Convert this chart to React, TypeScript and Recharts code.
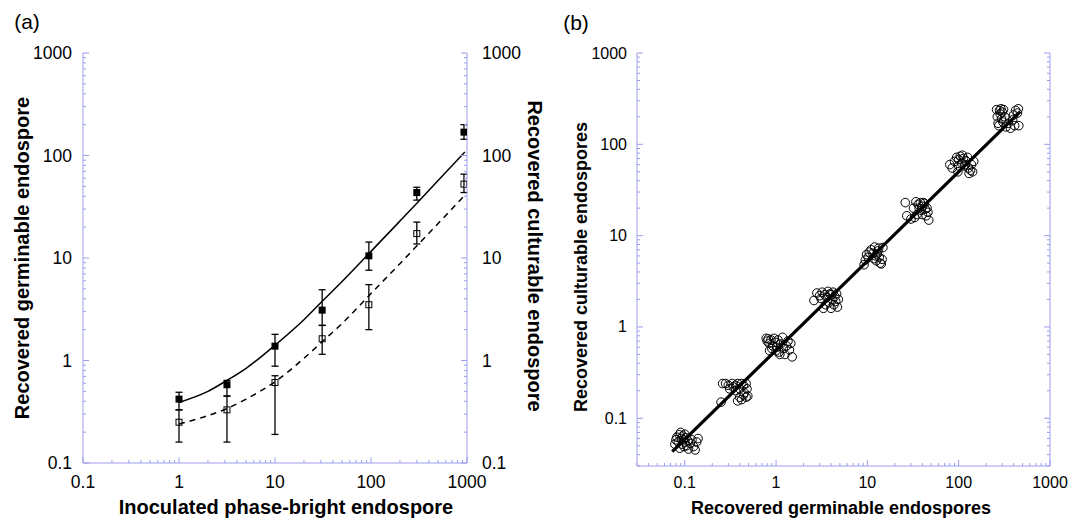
import React from 'react';
import { ComposedChart, Scatter, Line, XAxis, YAxis, ErrorBar } from 'recharts';

const FONT = '"Liberation Sans", Arial, Helvetica, sans-serif';
const AXIS_COLOR = '#9c9cf0';

// ---- tick values ----
const majorTicks = [0.1, 1, 10, 100, 1000];
const minorTicksA = [
  0.2, 0.3, 0.4, 0.5, 0.6, 0.7, 0.8, 0.9,
  2, 3, 4, 5, 6, 7, 8, 9,
  20, 30, 40, 50, 60, 70, 80, 90,
  200, 300, 400, 500, 600, 700, 800, 900,
];
const minorTicksB = [0.03, 0.04, 0.05, 0.06, 0.07, 0.08, 0.09, ...minorTicksA];

// ---- panel (a) data ----
const inoculated = [1, 3.16, 10, 31, 95, 300, 930];
const germinable = [0.42, 0.58, 1.38, 3.1, 10.5, 43.5, 169];
const germinableLow = [0.33, 0.45, 0.88, 2.2, 7.6, 36.7, 144];
const germinableHigh = [0.49, 0.64, 1.8, 4.9, 14.3, 49, 200];
const culturable = [0.25, 0.33, 0.61, 1.63, 3.5, 17.3, 52.6];
const culturableLow = [0.16, 0.16, 0.19, 1.15, 2.0, 13.7, 43.5];
const culturableHigh = [0.33, 0.45, 0.71, 2.2, 5.5, 22.4, 65.8];

const fitX = [1, 2, 3.16, 5, 10, 20, 31.6, 50, 100, 200, 316, 500, 950];
const fitGerminable = [0.39, 0.5, 0.64, 0.84, 1.41, 2.5, 3.85, 5.9, 11.6, 22.9, 36, 57, 108];
const fitCulturable = [0.24, 0.29, 0.34, 0.42, 0.62, 1.05, 1.55, 2.3, 4.5, 8.8, 13.8, 21.7, 41];

// ---- panel (b) data: [germinable, culturable] ----
const cluster1 = [[0.078,0.052],[0.08,0.058],[0.082,0.062],[0.085,0.055],[0.087,0.066],[0.09,0.07],[0.092,0.06],[0.094,0.052],[0.095,0.064],[0.097,0.058],[0.1,0.067],[0.1,0.055],[0.103,0.061],[0.105,0.05],[0.108,0.057],[0.11,0.046],[0.115,0.053],[0.12,0.058],[0.125,0.049],[0.13,0.045],[0.135,0.055],[0.14,0.06],[0.088,0.047],[0.098,0.049]];
const cluster2 = [[0.26,0.24],[0.28,0.24],[0.3,0.23],[0.31,0.21],[0.33,0.24],[0.34,0.22],[0.36,0.23],[0.38,0.24],[0.4,0.21],[0.42,0.24],[0.44,0.23],[0.47,0.24],[0.48,0.21],[0.45,0.19],[0.4,0.17],[0.42,0.16],[0.38,0.155],[0.44,0.18],[0.47,0.17],[0.49,0.175],[0.25,0.15],[0.36,0.2]];
const cluster3 = [[0.78,0.75],[0.8,0.7],[0.82,0.74],[0.84,0.66],[0.85,0.55],[0.88,0.72],[0.92,0.62],[0.95,0.75],[0.98,0.68],[1.0,0.55],[1.02,0.6],[1.05,0.72],[1.1,0.5],[1.12,0.65],[1.18,0.77],[1.2,0.58],[1.25,0.5],[1.3,0.62],[1.35,0.7],[1.4,0.56],[1.45,0.66],[1.5,0.47],[0.9,0.58],[1.08,0.53]];
const cluster4 = [[2.6,1.95],[2.8,2.35],[3.0,2.2],[3.2,2.4],[3.3,1.6],[3.4,2.25],[3.5,1.75],[3.6,2.1],[3.7,2.45],[3.8,1.85],[3.9,2.3],[4.0,1.6],[4.1,2.0],[4.2,2.4],[4.3,1.75],[4.4,2.15],[4.5,1.9],[4.6,2.3],[4.7,1.65],[4.8,2.0],[3.1,2.05],[4.0,2.25]];
const cluster5 = [[9.2,4.8],[9.5,5.4],[9.8,6.2],[10.2,5.8],[10.5,6.6],[11,7.0],[11.5,6.4],[12,7.5],[12.3,6.0],[12.5,5.3],[13,6.8],[13.3,7.3],[13.5,5.8],[13.8,5.0],[14.2,4.9],[14.5,5.5],[14.8,7.4],[12.8,6.3],[11.8,5.6]];
const cluster6 = [[26,23],[27,16.5],[30,15.2],[32,20],[33,15.8],[34,23.5],[35,17],[36,22],[38,23],[39,19],[40,21],[40,17],[42,22.5],[43,19.5],[44,16.5],[45,20],[46,18],[47,14.8],[37,20],[41,23]];
const cluster7 = [[80,60],[85,55],[90,65],[95,72],[98,50],[100,68],[104,74],[108,62],[110,76],[113,70],[116,58],[120,66],[125,72],[128,55],[130,48],[135,52],[138,60],[142,50],[146,65],[118,60],[100,58]];
const cluster8 = [[260,240],[265,200],[270,170],[275,160],[280,235],[285,215],[290,245],[295,190],[300,225],[305,175],[310,240],[320,200],[330,155],[350,170],[370,150],[390,185],[410,160],[420,235],[440,220],[450,245],[455,160],[400,210]];
const fitBX = [0.073, 470];
const fitBY = [0.043, 227];

// ---- tables built from the arrays ----
const germTable = inoculated.map((x, i) => ({
  x, y: germinable[i], err: [germinable[i] - germinableLow[i], germinableHigh[i] - germinable[i]],
}));
const cultTable = inoculated.map((x, i) => ({
  x, y: culturable[i], err: [culturable[i] - culturableLow[i], culturableHigh[i] - culturable[i]],
}));
const fitGermTable = fitX.map((x, i) => ({ x, y: fitGerminable[i] }));
const fitCultTable = fitX.map((x, i) => ({ x, y: fitCulturable[i] }));
const scatterB = [cluster1, cluster2, cluster3, cluster4, cluster5, cluster6, cluster7, cluster8]
  .flat()
  .map(([x, y]) => ({ x, y }));
const fitBTable = fitBX.map((x, i) => ({ x, y: fitBY[i] }));

type Side = 'left' | 'right' | 'bottom' | 'top';

function makeTick(side: Side, showLabel: boolean, fontSize: number, gap: number) {
  return (props: any) => {
    const { x, y, payload } = props;
    const v = payload.value;
    const major = majorTicks.includes(v);
    const len = major ? 6 : 3;
    let l = { x1: x, y1: y, x2: x, y2: y };
    if (side === 'left') l = { x1: x, y1: y, x2: x + len, y2: y };
    if (side === 'right') l = { x1: x, y1: y, x2: x - len, y2: y };
    if (side === 'bottom') l = { x1: x, y1: y, x2: x, y2: y - len };
    if (side === 'top') l = { x1: x, y1: y, x2: x, y2: y + len };
    let label: any = null;
    if (showLabel && major) {
      const common = { fontFamily: FONT, fontSize, fill: '#000', dominantBaseline: 'central' as const };
      if (side === 'left') label = <text x={x - gap} y={y} textAnchor="end" {...common}>{String(v)}</text>;
      if (side === 'right') label = <text x={x + gap} y={y} textAnchor="start" {...common}>{String(v)}</text>;
      if (side === 'bottom') label = <text x={x} y={y + gap} textAnchor="middle" {...common}>{String(v)}</text>;
    }
    return (
      <g>
        <line {...l} stroke={AXIS_COLOR} strokeWidth={1} />
        {label}
      </g>
    );
  };
}

const filledSquare = (p: any) => <rect x={p.cx - 3.5} y={p.cy - 3.5} width={7} height={7} fill="#000" />;
const openSquare = (p: any) => (
  <rect x={p.cx - 3} y={p.cy - 3} width={6} height={6} fill="none" stroke="#000" strokeWidth={1} />
);
const openCircle = (p: any) => <circle cx={p.cx} cy={p.cy} r={4.3} fill="none" stroke="#000" strokeWidth={1} />;

const textBase: React.CSSProperties = {
  position: 'absolute',
  fontFamily: FONT,
  color: '#000',
  whiteSpace: 'nowrap',
  lineHeight: 1,
};

function Label({ x, y, size, bold, rotate, children }: any) {
  return (
    <div
      style={{
        ...textBase,
        left: x,
        top: y,
        fontSize: size,
        fontWeight: bold ? 700 : 400,
        transform: `translate(-50%, -50%)${rotate ? ` rotate(${rotate}deg)` : ''}`,
      }}
    >
      {children}
    </div>
  );
}

export default function App() {
  const ticksA = [...majorTicks, ...minorTicksA];
  const ticksB = [...majorTicks, ...minorTicksB];
  return (
    <div style={{ position: 'absolute', left: 0, top: 0, width: 1084, height: 521, background: '#fff', overflow: 'hidden' }}>
      <div style={{ position: 'absolute', left: 0, top: 0 }}>
        <ComposedChart width={550} height={521} margin={{ top: 53, right: 0, bottom: 0, left: 0 }}>
          <XAxis
            dataKey="x" type="number" scale="log" domain={[0.1, 1000]} allowDataOverflow
            ticks={ticksA} interval={0} tickSize={0} tickMargin={0} tickLine={false}
            axisLine={{ stroke: AXIS_COLOR }} height={58}
            tick={makeTick('bottom', true, 17.5, 19)}
          />
          <YAxis
            yAxisId="l" type="number" scale="log" domain={[0.1, 1000]} allowDataOverflow
            ticks={ticksA} interval={0} tickSize={0} tickMargin={0} tickLine={false}
            axisLine={{ stroke: AXIS_COLOR }} width={83}
            tick={makeTick('left', true, 17.5, 11)}
          />
          <YAxis
            yAxisId="r" orientation="right" type="number" scale="log" domain={[0.1, 1000]} allowDataOverflow
            ticks={ticksA} interval={0} tickSize={0} tickMargin={0} tickLine={false}
            axisLine={{ stroke: AXIS_COLOR }} width={83}
            tick={makeTick('right', true, 17.5, 15)}
          />
          <Line yAxisId="l" data={fitGermTable} dataKey="y" type="monotone" stroke="#000" strokeWidth={1.5} dot={false} isAnimationActive={false} />
          <Line yAxisId="l" data={fitCultTable} dataKey="y" type="monotone" stroke="#000" strokeWidth={1.5} strokeDasharray="6 5" dot={false} isAnimationActive={false} />
          <Scatter yAxisId="l" data={germTable} dataKey="y" shape={filledSquare} isAnimationActive={false}>
            <ErrorBar dataKey="err" direction="y" width={3.5} stroke="#000" strokeWidth={1.3} />
          </Scatter>
          <Scatter yAxisId="l" data={cultTable} dataKey="y" shape={openSquare} isAnimationActive={false}>
            <ErrorBar dataKey="err" direction="y" width={3.5} stroke="#000" strokeWidth={1.3} />
          </Scatter>
        </ComposedChart>
      </div>

      <div style={{ position: 'absolute', left: 550, top: 0 }}>
        <ComposedChart width={534} height={521} margin={{ top: 53, right: 0, bottom: 0, left: 0 }}>
          <XAxis
            dataKey="x" type="number" scale="log" domain={[0.03, 1000]} allowDataOverflow
            ticks={ticksB} interval={0} tickSize={0} tickMargin={0} tickLine={false}
            axisLine={{ stroke: AXIS_COLOR }} height={55}
            tick={makeTick('bottom', true, 16, 16)}
          />
          <XAxis
            xAxisId="top" orientation="top" dataKey="x" type="number" scale="log" domain={[0.03, 1000]} allowDataOverflow
            ticks={ticksB} interval={0} tickSize={0} tickMargin={0} tickLine={false}
            axisLine={{ stroke: AXIS_COLOR }} height={0}
            tick={makeTick('top', false, 16, 0)}
          />
          <YAxis
            yAxisId="l" type="number" scale="log" domain={[0.03, 1000]} allowDataOverflow
            ticks={ticksB} interval={0} tickSize={0} tickMargin={0} tickLine={false}
            axisLine={{ stroke: AXIS_COLOR }} width={87}
            tick={makeTick('left', true, 16, 10)}
          />
          <YAxis
            yAxisId="r" orientation="right" type="number" scale="log" domain={[0.03, 1000]} allowDataOverflow
            ticks={ticksB} interval={0} tickSize={0} tickMargin={0} tickLine={false}
            axisLine={{ stroke: AXIS_COLOR }} width={34}
            tick={makeTick('right', false, 16, 0)}
          />
          <Scatter yAxisId="l" data={scatterB} dataKey="y" shape={openCircle} isAnimationActive={false} />
          <Line yAxisId="l" data={fitBTable} dataKey="y" type="linear" stroke="#000" strokeWidth={3.2} dot={false} isAnimationActive={false} />
        </ComposedChart>
      </div>

      <Label x={27} y={21} size={21}>(a)</Label>
      <Label x={576} y={22} size={21}>(b)</Label>
      <Label x={22} y={258} size={20} bold rotate={-90}>Recovered germinable endospore</Label>
      <Label x={535} y={256} size={20} bold rotate={90}>Recovered culturable endospore</Label>
      <Label x={286} y={507} size={20} bold>Inoculated phase-bright endospore</Label>
      <Label x={581} y={267} size={18} bold rotate={-90}>Recovered culturable endospores</Label>
      <Label x={841} y={508} size={18} bold>Recovered germinable endospores</Label>
    </div>
  );
}
